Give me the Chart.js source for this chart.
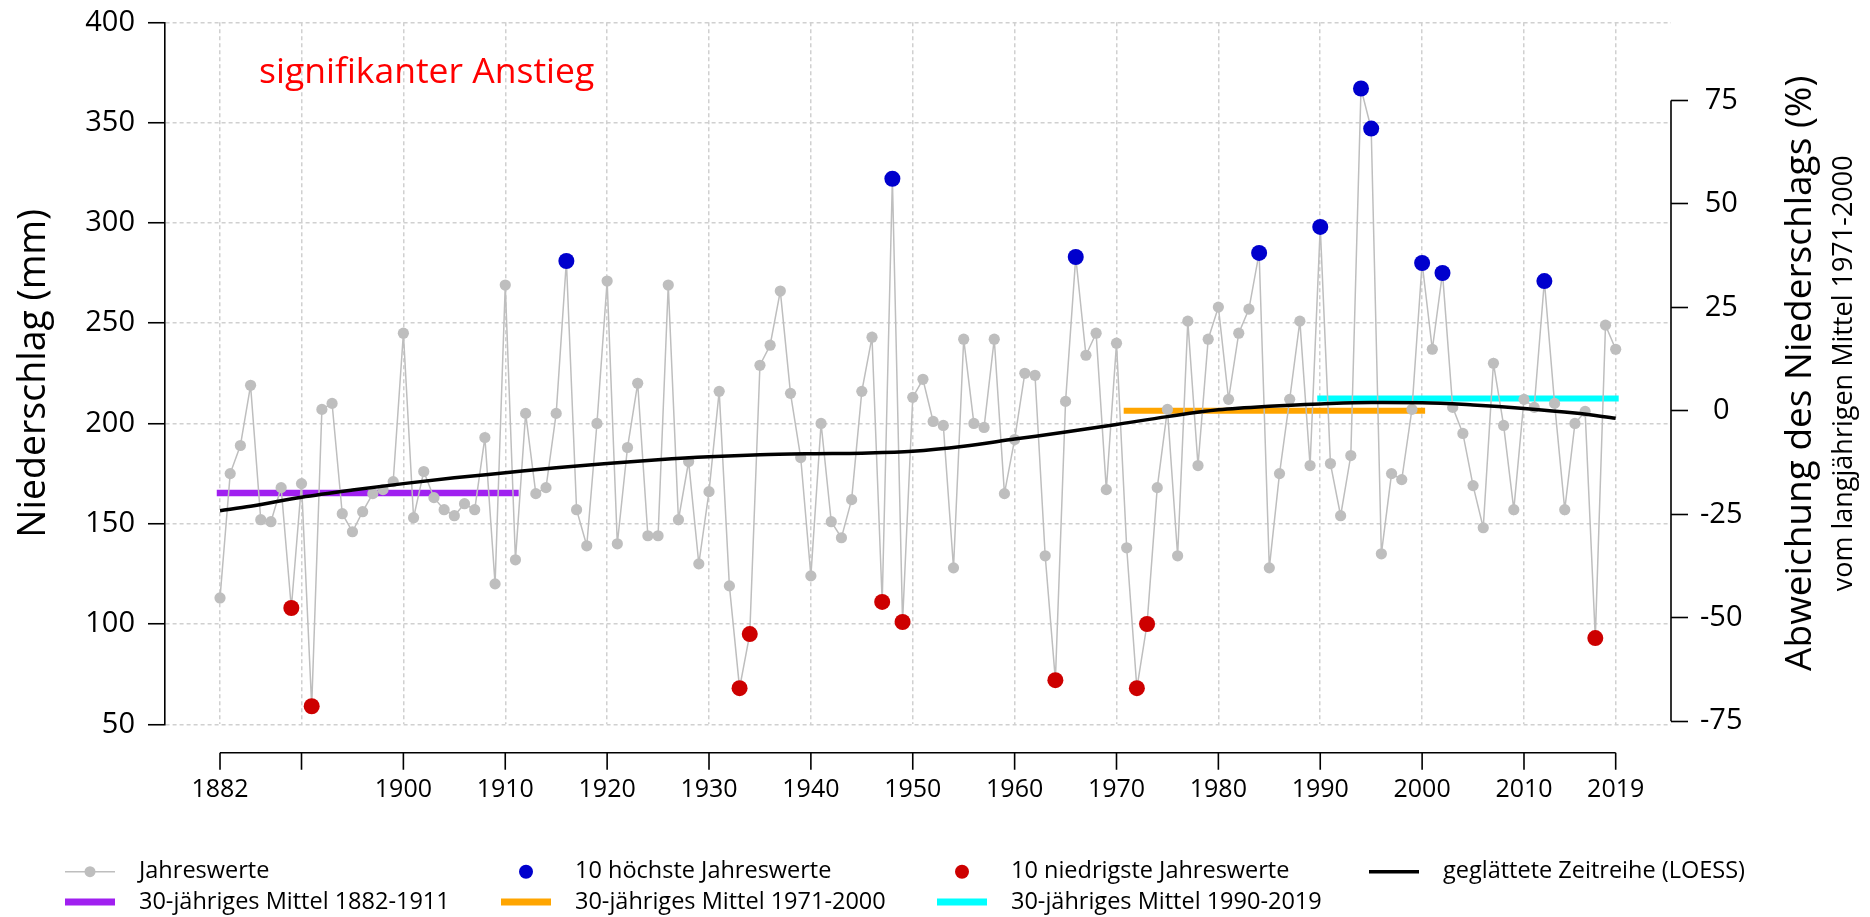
<!DOCTYPE html>
<html lang="de">
<head>
<meta charset="utf-8">
<title>Jahresniederschlag 1882–2019</title>
<script src="https://cdn.jsdelivr.net/npm/chart.js@4.4.1/dist/chart.umd.min.js"></script>
<style>
  html, body { margin: 0; padding: 0; background: #ffffff; }
  canvas { display: block; }
</style>
</head>
<body>
<canvas id="chart" width="1870" height="917"></canvas>
<script>
// ---- data -----------------------------------------------------------
const FIRST_YEAR = 1882;

// annual precipitation (mm), 1882 ... 2019
const annualPrecip = [
  113, 175, 189, 219, 152, 151, 168, 108, 170,  59,   // 1882-1891
  207, 210, 155, 146, 156, 165, 167, 171, 245, 153,   // 1892-1901
  176, 163, 157, 154, 160, 157, 193, 120, 269, 132,   // 1902-1911
  205, 165, 168, 205, 281, 157, 139, 200, 271, 140,   // 1912-1921
  188, 220, 144, 144, 269, 152, 181, 130, 166, 216,   // 1922-1931
  119,  68,  95, 229, 239, 266, 215, 183, 124, 200,   // 1932-1941
  151, 143, 162, 216, 243, 111, 322, 101, 213, 222,   // 1942-1951
  201, 199, 128, 242, 200, 198, 242, 165, 192, 225,   // 1952-1961
  224, 134,  72, 211, 283, 234, 245, 167, 240, 138,   // 1962-1971
   68, 100, 168, 207, 134, 251, 179, 242, 258, 212,   // 1972-1981
  245, 257, 285, 128, 175, 212, 251, 179, 298, 180,   // 1982-1991
  154, 184, 367, 347, 135, 175, 172, 207, 280, 237,   // 1992-2001
  275, 208, 195, 169, 148, 230, 199, 157, 212, 208,   // 2002-2011
  271, 210, 157, 200, 206,  93, 249, 237              // 2012-2019
];

// the ten wettest and the ten driest years
const highestYears = [1916, 1948, 1966, 1984, 1990, 1994, 1995, 2000, 2002, 2012];
const lowestYears  = [1889, 1891, 1933, 1934, 1947, 1949, 1964, 1972, 1973, 2017];

// smoothed series (LOESS)
const loessYears  = [1882, 1885, 1890, 1895, 1900, 1905, 1910, 1915, 1920, 1925, 1930, 1935, 1940, 1945,
                     1950, 1955, 1960, 1965, 1970, 1975, 1980, 1985, 1990, 1995, 2000, 2005, 2010, 2015, 2019];
const loessValues = [156.5, 158.7, 163.2, 166.8, 170.0, 172.9, 175.4, 177.9, 180.0, 181.9, 183.4, 184.4, 184.9, 185.2,
                     186.1, 188.6, 192.2, 195.7, 199.5, 203.4, 206.8, 208.6, 209.7, 210.4, 210.3, 209.2, 207.5, 205.2, 202.6];

// 30-year means
const meanStart  = [1882, 1971, 1990];
const meanEnd    = [1911, 2000, 2019];
const meanValues = [165.3, 206.3, 212.4];
const referenceMean = 206.3;   // 1971-2000, base of the percentage axis

// axes
const xTickYears  = [1882, 1890, 1900, 1910, 1920, 1930, 1940, 1950, 1960, 1970, 1980, 1990, 2000, 2010, 2019];
const xTickLabels = ['1882', '', '1900', '1910', '1920', '1930', '1940', '1950', '1960', '1970', '1980', '1990', '2000', '2010', '2019'];
const yTicks   = [50, 100, 150, 200, 250, 300, 350, 400];
const pctTicks = [-75, -50, -25, 0, 25, 50, 75];

// ---- derived point lists --------------------------------------------
const years = annualPrecip.map((_, i) => FIRST_YEAR + i);
const valueOf = yr => annualPrecip[yr - FIRST_YEAR];
const annualPoints = years.map((yr, i) => ({ x: yr, y: annualPrecip[i] }));
const highPoints = highestYears.map(yr => ({ x: yr, y: valueOf(yr) }));
const lowPoints  = lowestYears.map(yr => ({ x: yr, y: valueOf(yr) }));
const loessPoints = loessYears.map((yr, i) => ({ x: yr, y: loessValues[i] }));
const meanSeg = k => [{ x: meanStart[k], y: meanValues[k] }, { x: meanEnd[k], y: meanValues[k] }];

const toPct = v => (v / referenceMean - 1) * 100;

// ---- styles -----------------------------------------------------------
const FONT = "'Open Sans', 'Noto Sans', sans-serif";
const GREY = '#bebebe';
const BLUE = '#0000cd';
const RED  = '#cd0000';
const MEAN_COLORS = ['#a020f0', '#ffa500', '#00ffff'];

Chart.defaults.font.family = FONT;
Chart.defaults.color = '#000';

const lineBase = { showLine: true, pointRadius: 0, pointHoverRadius: 0, fill: false, tension: 0 };

// vertical scales: fixed width, no extra room reserved for the end labels
const fixWidth = w => s => { s.width = w; s.paddingTop = 0; s.paddingBottom = 0; };

// ---- axis lines, titles, note and legend ---------------------------------
const decorations = {
  id: 'decorations',
  afterDraw(chart) {
    const { ctx, chartArea, scales } = chart;
    const xs = scales.x, ys2 = scales.y2;
    ctx.save();

    // x axis, set off below the plotting region
    const axY = chartArea.bottom + 28.4;
    ctx.strokeStyle = '#000';
    ctx.lineWidth = 1.6;
    ctx.beginPath();
    ctx.moveTo(xs.getPixelForValue(xTickYears[0]), axY);
    ctx.lineTo(xs.getPixelForValue(xTickYears[xTickYears.length - 1]), axY);
    xTickYears.forEach(v => {
      const px = xs.getPixelForValue(v);
      ctx.moveTo(px, axY);
      ctx.lineTo(px, axY + 17);
    });
    ctx.stroke();

    // right axis line, spanning the outer ticks only
    ctx.beginPath();
    ctx.moveTo(chartArea.right, ys2.getPixelForValue(pctTicks[0]));
    ctx.lineTo(chartArea.right, ys2.getPixelForValue(pctTicks[pctTicks.length - 1]));
    ctx.stroke();

    // axis titles
    const midY = (chartArea.top + chartArea.bottom) / 2;
    const vText = (txt, x, size) => {
      ctx.save();
      ctx.translate(x, midY);
      ctx.rotate(-Math.PI / 2);
      ctx.font = size + 'px ' + FONT;
      ctx.textAlign = 'center';
      ctx.textBaseline = 'middle';
      ctx.fillStyle = '#000';
      ctx.fillText(txt, 0, 0);
      ctx.restore();
    };
    vText('Niederschlag (mm)', 34, 37.5);
    vText('Abweichung des Niederschlags (%)', 1800, 37);
    vText('vom langjährigen Mittel 1971-2000', 1844, 27);

    // trend note
    ctx.font = '35.5px ' + FONT;
    ctx.fillStyle = '#ff0000';
    ctx.textAlign = 'left';
    ctx.textBaseline = 'alphabetic';
    ctx.fillText('signifikanter Anstieg', 259, 83);

    // legend
    const row1 = 871.7, row2 = 902;
    const colText = [139, 575, 1011, 1443];
    ctx.font = '23.5px ' + FONT;
    ctx.fillStyle = '#000';
    ctx.textBaseline = 'middle';
    const label = (txt, col, y) => ctx.fillText(txt, colText[col], y);
    const seg = (col, y, color, w) => {
      ctx.beginPath();
      ctx.strokeStyle = color;
      ctx.lineWidth = w;
      ctx.moveTo(colText[col] - 74, y);
      ctx.lineTo(colText[col] - 24, y);
      ctx.stroke();
    };
    const dot = (col, y, color, r) => {
      ctx.beginPath();
      ctx.fillStyle = color;
      ctx.arc(colText[col] - 49, y, r, 0, Math.PI * 2);
      ctx.fill();
    };
    seg(0, row1, GREY, 1.5); dot(0, row1, GREY, 5.5);
    dot(1, row1, BLUE, 7);
    dot(2, row1, RED, 7);
    seg(3, row1, '#000', 3.5);
    seg(0, row2, MEAN_COLORS[0], 7);
    seg(1, row2, MEAN_COLORS[1], 7);
    seg(2, row2, MEAN_COLORS[2], 7);
    ctx.fillStyle = '#000';
    label('Jahreswerte', 0, row1);
    label('10 höchste Jahreswerte', 1, row1);
    label('10 niedrigste Jahreswerte', 2, row1);
    label('geglättete Zeitreihe (LOESS)', 3, row1);
    label('30-jähriges Mittel 1882-1911', 0, row2);
    label('30-jähriges Mittel 1971-2000', 1, row2);
    label('30-jähriges Mittel 1990-2019', 2, row2);

    ctx.restore();
  }
};

new Chart(document.getElementById('chart'), {
  type: 'scatter',
  data: {
    datasets: [
      { ...lineBase, label: '30-jähriges Mittel 1882-1911', data: meanSeg(0), borderColor: MEAN_COLORS[0], borderWidth: 6.5, borderCapStyle: 'square', order: 6 },
      { ...lineBase, label: '30-jähriges Mittel 1971-2000', data: meanSeg(1), borderColor: MEAN_COLORS[1], borderWidth: 6, borderCapStyle: 'square', order: 6 },
      { ...lineBase, label: '30-jähriges Mittel 1990-2019', data: meanSeg(2), borderColor: MEAN_COLORS[2], borderWidth: 6, borderCapStyle: 'square', order: 6 },
      {
        label: 'Jahreswerte', data: annualPoints, showLine: true, tension: 0,
        borderColor: GREY, borderWidth: 1.5,
        pointRadius: 5.6, pointHoverRadius: 5.6, pointBackgroundColor: GREY, pointBorderWidth: 0,
        order: 4
      },
      { ...lineBase, label: 'geglättete Zeitreihe (LOESS)', data: loessPoints, borderColor: '#000', borderWidth: 3.5,
        cubicInterpolationMode: 'monotone', order: 3 },
      { label: '10 höchste Jahreswerte', data: highPoints, showLine: false,
        pointRadius: 8, pointHoverRadius: 8, pointBackgroundColor: BLUE, pointBorderWidth: 0, order: 1 },
      { label: '10 niedrigste Jahreswerte', data: lowPoints, showLine: false,
        pointRadius: 8, pointHoverRadius: 8, pointBackgroundColor: RED, pointBorderWidth: 0, order: 1 }
    ]
  },
  options: {
    responsive: false,
    animation: false,
    devicePixelRatio: 1,
    events: [],
    layout: { padding: { top: 22.3, left: 0, right: 0, bottom: 0 } },
    plugins: { legend: { display: false }, tooltip: { enabled: false }, title: { display: false } },
    scales: {
      x: {
        type: 'linear',
        min: 1876.6,
        max: 2024.43,
        afterBuildTicks: s => { s.ticks = xTickYears.map(v => ({ value: v })); },
        afterFit: s => { s.height = 192.7; },
        ticks: {
          autoSkip: false, maxRotation: 0, minRotation: 0, padding: 51,
          font: { size: 25 }, color: '#000',
          callback: v => xTickLabels[xTickYears.indexOf(v)] ?? ''
        },
        grid: { display: true, drawTicks: false, color: '#d0d0d0', lineWidth: 1.5 },
        border: { display: false, dash: [4, 3] }
      },
      y: {
        position: 'left',
        min: 50,
        max: 400,
        afterBuildTicks: s => { s.ticks = yTicks.map(v => ({ value: v })); },
        afterFit: fixWidth(165),
        ticks: { padding: 13, font: { size: 29 }, color: '#000' },
        grid: { display: true, color: '#d0d0d0', lineWidth: 1.5, drawTicks: true, tickLength: 17,
                tickColor: '#000', tickWidth: 1.6, tickBorderDash: [] },
        border: { display: true, color: '#000', width: 1.6, dash: [4, 3] }
      },
      y2: {
        position: 'right',
        min: toPct(50),
        max: toPct(400),
        afterBuildTicks: s => { s.ticks = pctTicks.map(v => ({ value: v })); },
        afterFit: fixWidth(199),
        ticks: { padding: 12, font: { size: 29 }, color: '#000', crossAlign: 'center' },
        grid: { display: true, drawOnChartArea: false, drawTicks: true, tickLength: 17,
                tickColor: '#000', tickWidth: 1.6, color: '#000' },
        border: { display: false }
      }
    }
  },
  plugins: [decorations]
});
</script>
</body>
</html>
